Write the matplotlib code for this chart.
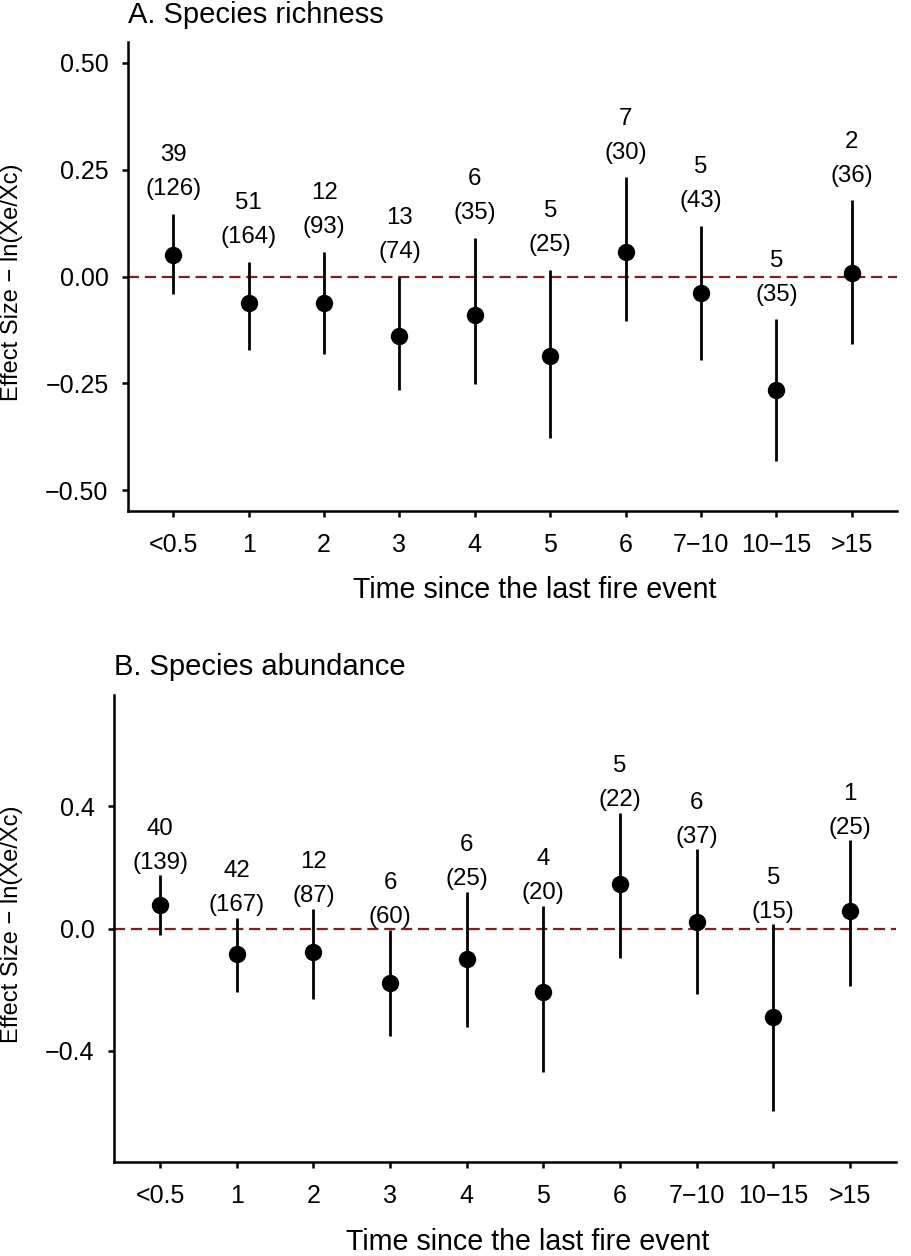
import matplotlib
matplotlib.use("Agg")
import matplotlib.pyplot as plt

plt.rcParams['font.family'] = ['Liberation Sans', 'DejaVu Sans']

categories = ["<0.5", "1", "2", "3", "4", "5", "6", "7\u221210", "10\u221215", ">15"]

# Panel A: species richness
rich_est = [0.051, -0.063, -0.061, -0.138, -0.089, -0.186, 0.058, -0.039, -0.266, 0.008]
rich_low = [-0.040, -0.171, -0.182, -0.266, -0.252, -0.378, -0.103, -0.194, -0.430, -0.157]
rich_up = [0.147, 0.035, 0.058, 0.000, 0.091, 0.016, 0.232, 0.119, -0.100, 0.178]
rich_k = [39, 51, 12, 13, 6, 5, 7, 5, 5, 2]
rich_n = [126, 164, 93, 74, 35, 25, 30, 43, 35, 36]

# Panel B: species abundance
abun_est = [0.078, -0.083, -0.076, -0.178, -0.099, -0.208, 0.146, 0.022, -0.290, 0.057]
abun_low = [-0.022, -0.209, -0.231, -0.352, -0.323, -0.471, -0.097, -0.215, -0.597, -0.187]
abun_up = [0.175, 0.036, 0.064, -0.004, 0.121, 0.075, 0.380, 0.260, 0.014, 0.289]
abun_k = [40, 42, 12, 6, 6, 4, 5, 6, 5, 1]
abun_n = [139, 167, 87, 60, 25, 20, 22, 37, 15, 25]

fig = plt.figure(figsize=(9.12, 12.56), dpi=100)
axA = fig.add_axes([128/912, 745/1256, 769/912, 469/1256])
axB = fig.add_axes([114/912, 94/1256, 782/912, 467/1256])

xpos = list(range(1, len(categories) + 1))


def draw(ax, est, low, up, k, n, ylim, yticks, yticklabels, title, title_y,
         off_par, off_num, xlab_y, ylab_x, ylab_y):
    ax.axhline(0, color='#8B1A1A', lw=1.6, dashes=(5.0, 2.6), zorder=1)
    ax.vlines(xpos, low, up, color='black', lw=2.0, zorder=2)
    ax.plot(xpos, est, 'o', color='black', markersize=11.5, zorder=3)
    for x, u, kk, nn in zip(xpos, up, k, n):
        ax.annotate(f"({nn})", xy=(x, u), xytext=(0, off_par), textcoords='offset points',
                    ha='center', va='center', fontsize=17.3)
        ax.annotate(f"{kk}", xy=(x, u), xytext=(0, off_num), textcoords='offset points',
                    ha='center', va='center', fontsize=17.3)
    ax.set_xlim(0.4, 10.6)
    ax.set_ylim(*ylim)
    ax.set_xticks(xpos)
    ax.set_xticklabels(categories)
    ax.set_yticks(yticks)
    ax.set_yticklabels(yticklabels)
    for s in ['top', 'right']:
        ax.spines[s].set_visible(False)
    for s in ['left', 'bottom']:
        ax.spines[s].set_linewidth(1.8)
    ax.tick_params(axis='both', direction='out', length=4.5, width=1.8, labelsize=18)
    ax.tick_params(axis='x', pad=11)
    ax.tick_params(axis='y', pad=9.5)
    ax.set_title(title, loc='left', fontsize=21, pad=0, y=title_y, va='center')
    ax.set_xlabel("Time since the last fire event", fontsize=20.6)
    ax.xaxis.label.set_va('center')
    ax.xaxis.set_label_coords(0.529, xlab_y)
    ax.set_ylabel("Effect Size \u2212 ln(Xe/Xc)", fontsize=17)
    ax.yaxis.label.set_va('center')
    ax.yaxis.set_label_coords(ylab_x, ylab_y)


draw(axA, rich_est, rich_low, rich_up, rich_k, rich_n, (-0.548, 0.548),
     [-0.5, -0.25, 0, 0.25, 0.5], ["\u22120.50", "\u22120.25", "0.00", "0.25", "0.50"],
     "A. Species richness", 1.057, 17.6, 42.1, -0.168, -0.151, 0.488)
draw(axB, abun_est, abun_low, abun_up, abun_k, abun_n, (-0.765, 0.765),
     [-0.4, 0, 0.4], ["\u22120.4", "0.0", "0.4"],
     "B. Species abundance", 1.061, 9.0, 33.5, -0.171, -0.130, 0.510)

fig.savefig("out.png", dpi=100)
